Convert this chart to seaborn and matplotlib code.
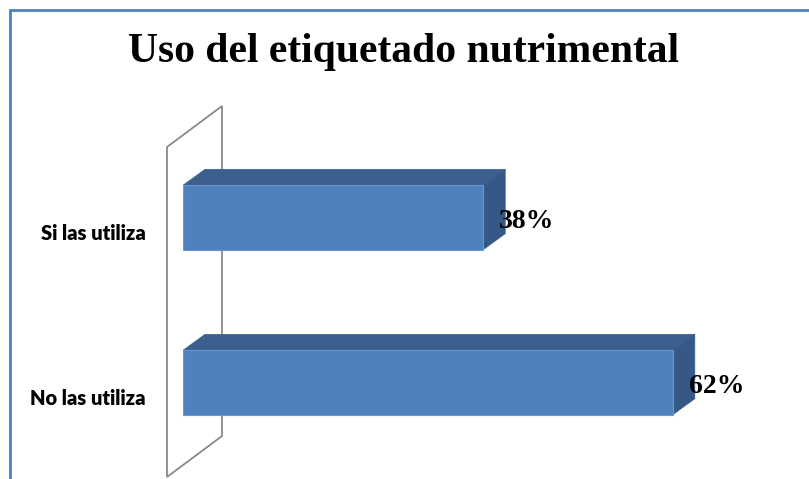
import matplotlib
matplotlib.use("Agg")
import numpy as np
import matplotlib.pyplot as plt
import seaborn as sns
from matplotlib.patches import Polygon
from matplotlib.lines import Line2D
from matplotlib.transforms import ScaledTranslation

# ----- data -----
categories = ["Si las utiliza", "No las utiliza"]
percent = [38, 62]
title = "Uso del etiquetado nutrimental"

# ----- style -----
FRONT = "#4F81BD"
TOP = "#3C5F8D"
SIDE = "#355886"
WALL = "#8A8A8A"
BORDER = "#4F81BD"
DEPTH = np.array([22, 16])        # bar depth in px (right, up)
WALL_FRONT = np.array([-16, -12])  # wall front plane relative to bar front
WALL_BACK = np.array([39, 29])     # wall back plane relative to bar front

sns.set_theme(style="white")

W, H = 809, 479
fig = plt.figure(figsize=(W / 100, H / 100), dpi=100)
ax = fig.add_axes([183 / W, 14 / H, 553 / W, 330 / H])
ax.patch.set_visible(False)

sns.barplot(x=percent, y=categories, orient="h", color=FRONT, saturation=1,
            width=0.39, edgecolor="#6A97CF", linewidth=0.8, ax=ax, zorder=3)
ax.set_xlim(0, 70)
ax.set_ylim(1.5, -0.5)
ax.axis("off")

to_fig = fig.transFigure.inverted()


def px(x, y):
    return ax.transData.transform((x, y))


# ----- side wall (3D back plane) -----
ft = px(0, -0.5) + WALL_FRONT
fb = px(0, 1.5) + WALL_FRONT
bb = px(0, 1.5) + WALL_BACK
bt = px(0, -0.5) + WALL_BACK
wall = Polygon(to_fig.transform([ft, fb, bb, bt]), closed=True,
               facecolor="white", edgecolor=WALL, linewidth=1.3,
               transform=fig.transFigure, clip_on=False, zorder=1)
ax.add_artist(wall)

# ----- 3D faces on each bar -----
for bar in ax.patches[:len(percent)]:
    x0, y0 = bar.get_x(), bar.get_y()
    w, h = bar.get_width(), bar.get_height()
    tl = px(x0, y0)
    tr = px(x0 + w, y0)
    br = px(x0 + w, y0 + h)
    top = [tl, tr, tr + DEPTH, tl + DEPTH]
    side = [tr, br, br + DEPTH, tr + DEPTH]
    for pts, col in [(top, TOP), (side, SIDE)]:
        ax.add_artist(Polygon(to_fig.transform(pts), closed=True,
                              facecolor=col, edgecolor=col, linewidth=0.5,
                              transform=fig.transFigure, clip_on=False, zorder=2))

# ----- labels -----
lab_tr = ax.transData + ScaledTranslation(-37 / 100, -16 / 100, fig.dpi_scale_trans)
for i, (cat, val) in enumerate(zip(categories, percent)):
    ax.text(0, i, cat, transform=lab_tr, ha="right", va="center",
            fontfamily=["Lato", "DejaVu Sans"], fontweight="heavy", fontsize=14.5,
            color="black")
    ax.annotate(f"{val}%", xy=(val, i), xytext=(16, -4), textcoords="offset pixels",
                ha="left", va="center", fontfamily=["Liberation Serif", "DejaVu Serif"],
                fontweight="bold", fontsize=20, color="black", zorder=5,
                annotation_clip=False)

fig.text(404 / W, 1 - 62 / H, title, ha="center", va="baseline",
         fontfamily=["Liberation Serif", "DejaVu Serif"], fontweight="bold",
         fontsize=30, color="black")

# ----- chart border (top and left edges visible) -----
bx, by = 9.5 / W, 1 - 9.5 / H
fig.add_artist(Line2D([bx, bx], [0, by], transform=fig.transFigure,
                      color=BORDER, linewidth=2))
fig.add_artist(Line2D([bx, 1], [by, by], transform=fig.transFigure,
                      color=BORDER, linewidth=2))

fig.savefig("out.png", dpi=100)
